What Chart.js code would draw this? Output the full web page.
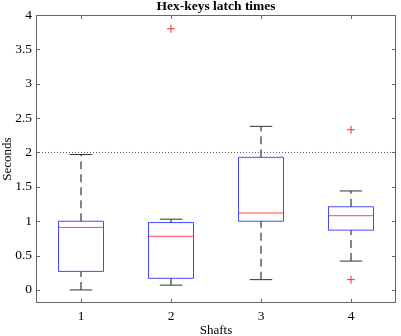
<!DOCTYPE html>
<html>
<head>
<meta charset="utf-8">
<script src="https://cdn.jsdelivr.net/npm/chart.js@4"></script>
<style>
  html, body { margin: 0; padding: 0; background: #fff; }
  #wrap { width: 401px; height: 336px; }
</style>
</head>
<body>
<div id="wrap"><canvas id="boxChart"></canvas></div>
<script>
    // Дані
    const categories = ['1', '2', '3', '4'];
    const lowerWhisker = [0.00, 0.07, 0.15, 0.42];
    const q1 = [0.27, 0.17, 1.00, 0.87];
    const medians = [0.91, 0.78, 1.12, 1.08];
    const q3 = [1.00, 0.98, 1.93, 1.21];
    const upperWhisker = [1.97, 1.03, 2.38, 1.44];
    const outliers = [[], [3.80], [], [2.33, 0.15]];
    const refLevel = 2;
    const yTicks = [0, 0.5, 1, 1.5, 2, 2.5, 3, 3.5, 4];

    const boxHalf = 0.25;
    const capHalf = 0.125;
    const serif = '"Liberation Serif", "Times New Roman", serif';

    // Побудова наборів
    const datasets = [];
    const lineStyle = { type: 'line', pointRadius: 0, fill: false, tension: 0, spanGaps: false };

    // опорна лінія
    datasets.push({ ...lineStyle, data: [{ x: 0.5, y: refLevel }, { x: 4.5, y: refLevel }],
        borderColor: '#555', borderWidth: 1, borderDash: [1, 2] });

    categories.forEach((c, i) => {
        const x = i + 1;
        // вуса (пунктир)
        datasets.push({ ...lineStyle, data: [
            { x: x, y: q3[i] }, { x: x, y: upperWhisker[i] }, { x: x, y: null },
            { x: x, y: lowerWhisker[i] }, { x: x, y: q1[i] }
        ], borderColor: '#444', borderWidth: 1.3, borderDash: [8, 5] });
        // кінці вусів
        datasets.push({ ...lineStyle, data: [
            { x: x - capHalf, y: upperWhisker[i] }, { x: x + capHalf, y: upperWhisker[i] }, { x: x, y: null },
            { x: x - capHalf, y: lowerWhisker[i] }, { x: x + capHalf, y: lowerWhisker[i] }
        ], borderColor: '#333', borderWidth: 1 });
        // коробка
        datasets.push({ ...lineStyle, data: [
            { x: x - boxHalf, y: q1[i] }, { x: x + boxHalf, y: q1[i] },
            { x: x + boxHalf, y: q3[i] }, { x: x - boxHalf, y: q3[i] },
            { x: x - boxHalf, y: q1[i] }
        ], borderColor: 'rgb(70,70,255)', borderWidth: 1 });
        // медіана
        datasets.push({ ...lineStyle, data: [
            { x: x - boxHalf, y: medians[i] }, { x: x + boxHalf, y: medians[i] }
        ], borderColor: 'rgb(255,70,70)', borderWidth: 1 });
    });

    // викиди
    const outlierPoints = [];
    outliers.forEach((arr, i) => arr.forEach(v => outlierPoints.push({ x: i + 1, y: v })));
    datasets.push({ type: 'scatter', data: outlierPoints, pointStyle: 'cross', pointRadius: 4,
        borderColor: 'rgb(255,40,40)', borderWidth: 1 });

    // Рамка, внутрішні риски та заголовок як у MATLAB
    const frame = {
        id: 'frame',
        afterDatasetsDraw(chart) {
            const { ctx, chartArea: a, scales } = chart;
            ctx.save();
            ctx.strokeStyle = '#666';
            ctx.lineWidth = 1;
            ctx.strokeRect(a.left + 0.5, a.top + 0.5, a.right - a.left - 1, a.bottom - a.top - 1);
            ctx.beginPath();
            categories.forEach((c, i) => {
                const px = Math.round(scales.x.getPixelForValue(i + 1)) + 0.5;
                ctx.moveTo(px, a.bottom); ctx.lineTo(px, a.bottom - 4);
                ctx.moveTo(px, a.top); ctx.lineTo(px, a.top + 4);
            });
            yTicks.forEach(v => {
                const py = Math.round(scales.y.getPixelForValue(v)) + 0.5;
                ctx.moveTo(a.left, py); ctx.lineTo(a.left + 4, py);
                ctx.moveTo(a.right, py); ctx.lineTo(a.right - 4, py);
            });
            ctx.stroke();
            // заголовок по центру області графіка
            ctx.fillStyle = '#000';
            ctx.font = 'bold 13.5px ' + serif;
            ctx.textAlign = 'center';
            ctx.textBaseline = 'middle';
            ctx.fillText('Hex-keys latch times', (a.left + a.right) / 2, 7);
            ctx.restore();
        }
    };

    const config = {
        type: 'line',
        data: { datasets: datasets },
        options: {
            responsive: true,
            maintainAspectRatio: false,
            animation: false,
            layout: { padding: { left: 0, right: 1, top: 15, bottom: 0 } },
            plugins: {
                legend: { display: false },
                tooltip: { enabled: false },
                title: { display: false }
            },
            scales: {
                x: {
                    type: 'linear',
                    min: 0.5,
                    max: 4.5,
                    afterBuildTicks: (axis) => { axis.ticks = categories.map((c, i) => ({ value: i + 1 })); },
                    afterFit: (axis) => { axis.height = 33; },
                    grid: { display: false, drawTicks: false },
                    border: { display: false },
                    ticks: {
                        color: '#000',
                        font: { family: serif, size: 13.5 },
                        padding: 5,
                        callback: (v) => categories[v - 1]
                    },
                    title: {
                        display: true,
                        text: 'Shafts',
                        color: '#000',
                        font: { family: serif, size: 13 },
                        padding: { top: 0, bottom: -2 }
                    }
                },
                y: {
                    min: -0.19,
                    max: 4,
                    afterBuildTicks: (axis) => { axis.ticks = yTicks.map(v => ({ value: v })); },
                    afterFit: (axis) => { axis.width = 36; },
                    grid: { display: false, drawTicks: false },
                    border: { display: false },
                    ticks: {
                        color: '#000',
                        font: { family: serif, size: 13.5 },
                        padding: 4,
                        callback: (v) => String(v)
                    },
                    title: {
                        display: true,
                        text: 'Seconds',
                        color: '#000',
                        font: { family: serif, size: 13 },
                        padding: 0
                    }
                }
            }
        },
        plugins: [frame]
    };

    const ctx1 = document.getElementById('boxChart').getContext('2d');
    new Chart(ctx1, config);
</script>
</body>
</html>
